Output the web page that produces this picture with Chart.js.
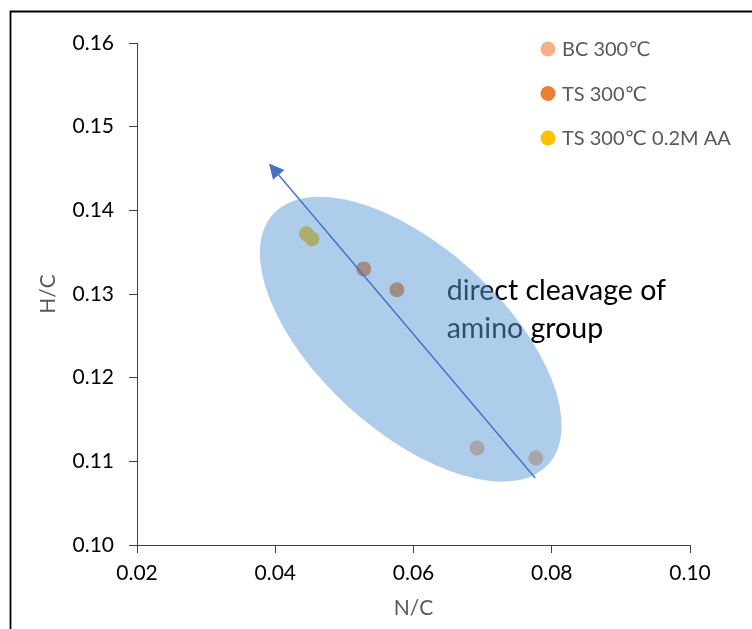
<!DOCTYPE html>
<html>
<head>
<meta charset="utf-8">
<script src="https://cdn.jsdelivr.net/npm/chart.js@4.4.1/dist/chart.umd.min.js"></script>
<style>
  html, body { margin: 0; padding: 0; background: #ffffff; }
  #wrap { width: 752px; height: 629px; }
</style>
</head>
<body>
<div id="wrap"><canvas id="c" width="752" height="629"></canvas></div>
<script>
// Series names
const seriesLabels = ['BC 300℃', 'TS 300℃', 'TS 300℃ 0.2M AA'];

// N/C and H/C atomic ratios for each series
const bcNC = [0.0692, 0.0777];
const bcHC = [0.1116, 0.1104];
const tsNC = [0.0528, 0.0576];
const tsHC = [0.1330, 0.1305];
const aaNC = [0.0445, 0.0453];
const aaHC = [0.1372, 0.1366];

// Axis ticks
const xTicks = [0.02, 0.04, 0.06, 0.08, 0.10];
const yTicks = [0.10, 0.11, 0.12, 0.13, 0.14, 0.15, 0.16];

// Trend arrow (data units): tail and head
const arrowNC = [0.0776, 0.0391];
const arrowHC = [0.1080, 0.1456];

// Annotation text and its anchor (data units)
const noteLines = ['direct cleavage of', 'amino group'];
const noteAnchor = { x: 0.0648, y: 0.1293 };

// Highlight ellipse centre (data units)
const ellipseCentre = { x: 0.0596, y: 0.1246 };

const seriesColors = ['#F4B183', '#ED7D31', '#FFC000'];
const FONT = 'Lato, "Open Sans", "DejaVu Sans", sans-serif';

const toPoints = (xs, ys) => xs.map((x, i) => ({ x, y: ys[i] }));

const datasets = [
  { label: seriesLabels[0], data: toPoints(bcNC, bcHC) },
  { label: seriesLabels[1], data: toPoints(tsNC, tsHC) },
  { label: seriesLabels[2], data: toPoints(aaNC, aaHC) }
].map((d, i) => Object.assign(d, {
  backgroundColor: seriesColors[i],
  borderWidth: 0,
  pointRadius: 7.5,
  pointHoverRadius: 7.5
}));

// Outer frame around the figure
const framePlugin = {
  id: 'frame',
  beforeDraw(chart) {
    const ctx = chart.ctx;
    ctx.save();
    ctx.fillStyle = '#ffffff';
    ctx.fillRect(0, 0, chart.width, chart.height);
    ctx.strokeStyle = '#000000';
    ctx.lineWidth = 1.8;
    ctx.beginPath();
    ctx.moveTo(10.5, chart.height + 2);
    ctx.lineTo(10.5, 11.5);
    ctx.lineTo(chart.width + 2, 11.5);
    ctx.stroke();
    ctx.restore();
  }
};

// Annotation text, shaded ellipse and trend arrow
const overlayPlugin = {
  id: 'overlay',
  afterDatasetsDraw(chart) {
    const ctx = chart.ctx;
    const xs = chart.scales.x, ys = chart.scales.y;

    // text
    ctx.save();
    ctx.fillStyle = '#000000';
    ctx.font = '28.5px ' + FONT;
    ctx.textAlign = 'left';
    ctx.textBaseline = 'alphabetic';
    const tx = xs.getPixelForValue(noteAnchor.x);
    const ty = ys.getPixelForValue(noteAnchor.y);
    noteLines.forEach((t, i) => ctx.fillText(t, tx, ty + i * 38));
    ctx.restore();

    // ellipse
    ctx.save();
    const cx = xs.getPixelForValue(ellipseCentre.x);
    const cy = ys.getPixelForValue(ellipseCentre.y);
    ctx.fillStyle = 'rgba(91,155,213,0.5)';
    ctx.beginPath();
    ctx.ellipse(cx, cy, 186, 92, 42.3 * Math.PI / 180, 0, Math.PI * 2);
    ctx.fill();
    ctx.restore();

    // arrow
    ctx.save();
    const x0 = xs.getPixelForValue(arrowNC[0]), y0 = ys.getPixelForValue(arrowHC[0]);
    const x1 = xs.getPixelForValue(arrowNC[1]), y1 = ys.getPixelForValue(arrowHC[1]);
    const ang = Math.atan2(y1 - y0, x1 - x0);
    const headLen = 15, headHalf = 7.5;
    const bx = x1 - headLen * Math.cos(ang), by = y1 - headLen * Math.sin(ang);
    ctx.strokeStyle = '#4472C4';
    ctx.fillStyle = '#4472C4';
    ctx.lineWidth = 1.4;
    ctx.beginPath();
    ctx.moveTo(x0, y0);
    ctx.lineTo(bx, by);
    ctx.stroke();
    ctx.beginPath();
    ctx.moveTo(x1, y1);
    ctx.lineTo(bx + headHalf * Math.sin(ang), by - headHalf * Math.cos(ang));
    ctx.lineTo(bx - headHalf * Math.sin(ang), by + headHalf * Math.cos(ang));
    ctx.closePath();
    ctx.fill();
    ctx.restore();
  }
};

// Legend stacked at the top right of the plot
const legendPlugin = {
  id: 'sideLegend',
  afterDraw(chart) {
    const ctx = chart.ctx;
    const area = chart.chartArea;
    const mx = area.right - 142;
    ctx.save();
    ctx.font = '20px ' + FONT;
    ctx.textAlign = 'left';
    ctx.textBaseline = 'middle';
    chart.data.datasets.forEach((ds, i) => {
      const y = area.top + 6 + i * 44.5;
      ctx.fillStyle = ds.backgroundColor;
      ctx.beginPath();
      ctx.arc(mx, y, 7.5, 0, Math.PI * 2);
      ctx.fill();
      ctx.fillStyle = '#595959';
      ctx.fillText(ds.label, mx + 14, y + 1);
    });
    ctx.restore();
  }
};

const axisColor = '#404040';

new Chart(document.getElementById('c'), {
  type: 'scatter',
  data: { datasets },
  options: {
    responsive: false,
    animation: false,
    events: [],
    layout: { padding: { left: 0, top: 43, right: 62, bottom: 0 } },
    plugins: {
      legend: { display: false },
      tooltip: { enabled: false }
    },
    scales: {
      x: {
        type: 'linear',
        min: 0.02,
        max: 0.10,
        afterBuildTicks(scale) { scale.ticks = xTicks.map(v => ({ value: v })); },
        afterFit(scale) { scale.height = 84; },
        ticks: {
          color: '#000000',
          font: { family: FONT, size: 21 },
          padding: 8,
          callback: v => Number(v).toFixed(2)
        },
        grid: {
          drawOnChartArea: false,
          drawTicks: true,
          tickLength: 8,
          color: axisColor,
          tickColor: axisColor
        },
        border: { display: true, color: axisColor, width: 1 },
        title: {
          display: true,
          text: 'N/C',
          color: '#595959',
          font: { family: FONT, size: 21 },
          padding: { top: 0, bottom: 8 }
        }
      },
      y: {
        type: 'linear',
        min: 0.10,
        max: 0.16,
        afterBuildTicks(scale) { scale.ticks = yTicks.map(v => ({ value: v })); },
        afterFit(scale) { scale.width = 137; },
        ticks: {
          color: '#000000',
          font: { family: FONT, size: 21 },
          padding: 15,
          callback: v => Number(v).toFixed(2)
        },
        grid: {
          drawOnChartArea: false,
          drawTicks: true,
          tickLength: 8,
          color: axisColor,
          tickColor: axisColor
        },
        border: { display: true, color: axisColor, width: 1 },
        title: {
          display: true,
          text: 'H/C',
          color: '#595959',
          font: { family: FONT, size: 21 },
          padding: { top: 36, bottom: 0 }
        }
      }
    }
  },
  plugins: [framePlugin, overlayPlugin, legendPlugin]
});
</script>
</body>
</html>
